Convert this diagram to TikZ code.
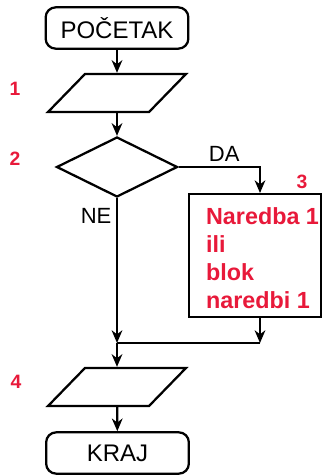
\documentclass[tikz,border=0pt]{standalone}
\usepackage{fontspec}
\setmainfont{Liberation Sans}
\usetikzlibrary{arrows.meta, positioning, shapes.geometric, calc}
\definecolor{cred}{HTML}{E8193A}
\tikzset{
  every picture/.style={line width=1.7pt},
  arrow/.style={-{Stealth[length=9.5pt, width=8pt, inset=3pt]}},
  terminal/.style={draw, rounded corners=7.5pt, minimum width=107pt, minimum height=31pt, font=\fontsize{18}{20}\selectfont},
  io/.style={draw, trapezium, trapezium left angle=60, trapezium right angle=120, trapezium stretches=true, minimum width=103.5pt, minimum height=28.5pt},
  decision/.style={draw, diamond, minimum width=90.75pt, minimum height=45pt, inner sep=0pt},
  stmtbox/.style={draw, minimum width=99pt, minimum height=92pt},
  stmttext/.style={text=cred, align=left, inner sep=0pt, font=\fontsize{17.5}{21}\selectfont\bfseries},
  num/.style={text=cred, font=\fontsize{14.5}{16}\selectfont\bfseries},
  branch/.style={font=\fontsize{16.5}{18}\selectfont},
}

\begin{document}
\begin{tikzpicture}[x=0.75pt, y=-0.75pt]
  \useasboundingbox (0,0) rectangle (325,476);
  \node[terminal] (start) at (117,28) {POČETAK};
  \node[io] (in1) at (117,93) {};
  \node[decision] (cond) at (117,167) {};
  \node[stmtbox] (blok) at (255,255.5) {};
  \node[stmttext, anchor=west] (bloktxt) at (205,258) {Naredba 1\\ili\\blok\\naredbi 1};
  \coordinate (join) at (117,343);
  \coordinate (rjoin) at (260,343);
  \node[io] (out4) at (117,387) {};
  \node[terminal] (end) at (117.5,453) {KRAJ};

  \node[num] (n1) at (15,89) {1};
  \node[num] (n2) at (15,159) {2};
  \node[num] (n3) at (302,182) {3};
  \node[num] (n4) at (16,382) {4};

  \draw[arrow] (start) -- (in1);
  \draw[arrow] (in1) -- (cond);
  \draw[arrow] (cond.east) -| node[pos=0.28, above, branch] (da) {DA} ($(blok.north)+(5,0)$);
  \draw[arrow] (cond.south) -- node[pos=0.12, left, branch] (ne) {NE} (join);
  \draw[arrow] ($(blok.south)+(5,0)$) -- (rjoin);
  \draw (rjoin) -- (join);
  \draw[arrow] (join) -- (out4);
  \draw[arrow] (out4) -- (end);
\end{tikzpicture}
\end{document}
